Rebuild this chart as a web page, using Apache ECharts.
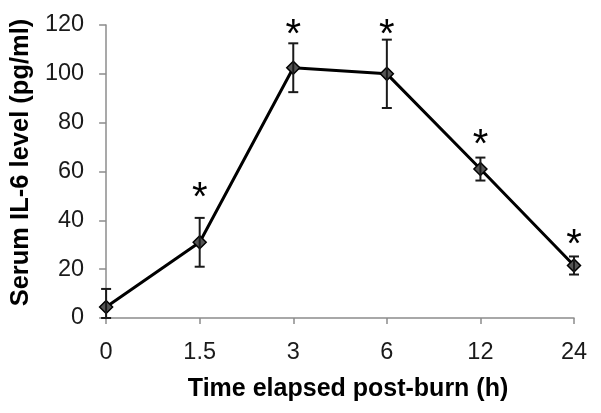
<!DOCTYPE html>
<html><head><meta charset="utf-8">
<script src="https://cdn.jsdelivr.net/npm/echarts@6/dist/echarts.min.js"></script>
<style>html,body{margin:0;padding:0;background:#fff}#c{width:601px;height:413px}</style>
</head><body><div id="c"></div>
<script>
var categories = ['0', '1.5', '3', '6', '12', '24'];
var means = [4.5, 31, 102.5, 100, 61, 21.5];
var errors = [7.4, 10, 10, 14, 4.7, 3.7];
var starLevels = [null, 52.5, 119, 119, 74, 33];
var yTicks = [0, 20, 40, 60, 80, 100, 120];

var chart = echarts.init(document.getElementById('c'), null, {renderer: 'canvas'});
var errData = categories.map(function (c, i) {
  return [i, Math.max(0, means[i] - errors[i]), means[i] + errors[i]];
});
var starData = [];
starLevels.forEach(function (s, i) { if (s !== null) starData.push([i, s]); });

var font = '"Liberation Sans", Arial, sans-serif';
chart.setOption({
  animation: false,
  grid: {left: 105, right: 27, top: 25, bottom: 95},
  xAxis: {
    type: 'category', data: categories, boundaryGap: false,
    name: 'Time elapsed post-burn (h)', nameLocation: 'middle', nameGap: 59,
    nameTextStyle: {fontFamily: font, fontWeight: 'bold', fontSize: 25, color: '#000', padding: [0, 0, 0, 16]},
    axisLine: {lineStyle: {color: '#8c8c8c', width: 1.5}},
    axisTick: {show: true, inside: false, length: 6, alignWithLabel: true, lineStyle: {color: '#8c8c8c', width: 1.5}},
    axisLabel: {fontFamily: font, fontSize: 23.5, color: '#1a1a1a', margin: 23}
  },
  yAxis: {
    type: 'value', min: yTicks[0], max: yTicks[yTicks.length - 1], interval: 20,
    name: 'Serum IL-6 level (pg/ml)', nameLocation: 'middle', nameGap: 62,
    nameTextStyle: {fontFamily: font, fontWeight: 'bold', fontSize: 25.5, color: '#000', padding: [0, 0, 0, 18]},
    axisLine: {show: true, lineStyle: {color: '#8c8c8c', width: 1.5}},
    axisTick: {show: true, length: 7, lineStyle: {color: '#8c8c8c', width: 1.5}},
    axisLabel: {fontFamily: font, fontSize: 23.5, color: '#1a1a1a', margin: 22},
    splitLine: {show: false}
  },
  series: [
    {
      type: 'line', data: means, symbol: 'diamond', symbolSize: 13,
      lineStyle: {color: '#000', width: 3},
      itemStyle: {color: '#555', borderColor: '#000', borderWidth: 1.5},
      z: 3
    },
    {
      type: 'custom', data: errData, z: 4,
      renderItem: function (params, api) {
        var x = api.value(0);
        var lo = api.coord([x, api.value(1)]);
        var hi = api.coord([x, api.value(2)]);
        var w = 5;
        var st = {stroke: '#1a1a1a', lineWidth: 2};
        return {type: 'group', children: [
          {type: 'line', shape: {x1: lo[0], y1: lo[1], x2: hi[0], y2: hi[1]}, style: st},
          {type: 'line', shape: {x1: hi[0] - w, y1: hi[1], x2: hi[0] + w, y2: hi[1]}, style: st},
          {type: 'line', shape: {x1: lo[0] - w, y1: lo[1], x2: lo[0] + w, y2: lo[1]}, style: st}
        ]};
      }
    },
    {
      type: 'custom', data: starData, z: 5,
      renderItem: function (params, api) {
        var p = api.coord([api.value(0), api.value(1)]);
        return {type: 'text', x: p[0], y: p[1] + 9, style: {
          text: '*', fontFamily: font, fontSize: 40, fill: '#000',
          textAlign: 'center', textVerticalAlign: 'middle'
        }};
      }
    }
  ]
});
</script></body></html>
